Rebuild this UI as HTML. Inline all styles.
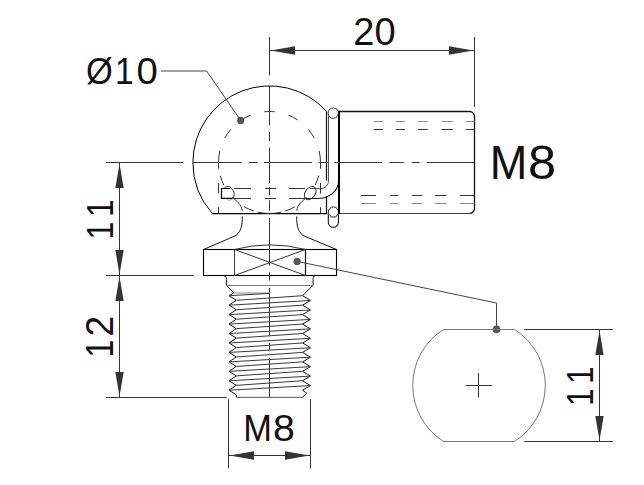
<!DOCTYPE html>
<html><head><meta charset="utf-8"><style>
html,body{margin:0;padding:0;background:#fff;width:644px;height:485px;overflow:hidden}
svg{position:absolute;left:0;top:0}
text{font-family:"Liberation Sans",sans-serif;fill:#111}
</style></head><body>
<svg width="644" height="485" viewBox="0 0 644 485">
<rect width="644" height="485" fill="#fff"/>
<line x1="474.50" y1="37.00" x2="474.50" y2="107.00" stroke="#333" stroke-width="1.0" />
<line x1="269.50" y1="37.00" x2="269.50" y2="75.50" stroke="#333" stroke-width="1.0" />
<line x1="269.50" y1="50.50" x2="474.50" y2="50.50" stroke="#333" stroke-width="1.0" />
<path d="M270.50 50.50 L295.00 46.35 L295.00 54.65 Z" fill="#333"/>
<path d="M473.50 50.50 L449.00 54.65 L449.00 46.35 Z" fill="#333"/>
<path d="M212.35 213.5 A76.6 76.6 0 0 1 192.90 162.5 A76.6 76.6 0 0 1 326.5 111.33" stroke="#000" stroke-width="1.0" fill="none" />
<line x1="212.35" y1="213.50" x2="326.50" y2="213.50" stroke="#000" stroke-width="1.25" />
<line x1="326.50" y1="214.20" x2="326.50" y2="196.00" stroke="#111" stroke-width="1.2" />
<line x1="326.50" y1="111.33" x2="326.50" y2="180.60" stroke="#111" stroke-width="1.2" />
<path d="M328.5 113 V181 A7.5 7.5 0 0 1 321 188.5 H310" stroke="#555" stroke-width="1.0" fill="none" />
<path d="M338.6 181 A21 17.3 0 0 1 317.6 198.5 H306" stroke="#111" stroke-width="1.1" fill="none" />
<circle cx="333.3" cy="113.1" r="5.2" fill="#fff" stroke="#333" stroke-width="1"/>
<path d="M328.3 212 V222.2 A5.1 5.1 0 0 0 338.5 222.2 V212" stroke="#111" stroke-width="1.1" fill="#fff" />
<circle cx="333.4" cy="212" r="5.1" fill="#fff" stroke="#222" stroke-width="1"/>
<path d="M328.4 213.5 A5.1 5.1 0 0 0 338.4 213.5" stroke="#999" stroke-width="0.8" fill="none" />
<path d="M339.5 111.5 H469.5 A5 5 0 0 1 474.5 116.5 V208.5 A5 5 0 0 1 469.5 213.5" stroke="#111" stroke-width="1.3" fill="none" />
<line x1="339.50" y1="213.50" x2="469.50" y2="213.50" stroke="#444" stroke-width="1.0" />
<line x1="339.00" y1="110.80" x2="339.00" y2="214.00" stroke="#000" stroke-width="2.0" />
<line x1="373.60" y1="121.50" x2="383.00" y2="121.50" stroke="#888" stroke-width="1.0" />
<line x1="395.60" y1="121.50" x2="404.90" y2="121.50" stroke="#888" stroke-width="1.0" />
<line x1="418.00" y1="121.50" x2="427.70" y2="121.50" stroke="#888" stroke-width="1.0" />
<line x1="441.60" y1="121.50" x2="452.80" y2="121.50" stroke="#888" stroke-width="1.0" />
<line x1="465.90" y1="121.50" x2="474.50" y2="121.50" stroke="#888" stroke-width="1.0" />
<line x1="373.60" y1="129.50" x2="383.00" y2="129.50" stroke="#333" stroke-width="1.0" />
<line x1="395.60" y1="129.50" x2="404.90" y2="129.50" stroke="#333" stroke-width="1.0" />
<line x1="418.00" y1="129.50" x2="427.70" y2="129.50" stroke="#333" stroke-width="1.0" />
<line x1="441.60" y1="129.50" x2="452.80" y2="129.50" stroke="#333" stroke-width="1.0" />
<line x1="465.90" y1="129.50" x2="474.50" y2="129.50" stroke="#333" stroke-width="1.0" />
<line x1="361.00" y1="195.50" x2="375.90" y2="195.50" stroke="#333" stroke-width="1.0" />
<line x1="390.00" y1="195.50" x2="398.20" y2="195.50" stroke="#333" stroke-width="1.0" />
<line x1="411.80" y1="195.50" x2="422.10" y2="195.50" stroke="#333" stroke-width="1.0" />
<line x1="435.10" y1="195.50" x2="446.30" y2="195.50" stroke="#333" stroke-width="1.0" />
<line x1="459.90" y1="195.50" x2="474.50" y2="195.50" stroke="#333" stroke-width="1.0" />
<line x1="361.00" y1="203.50" x2="375.90" y2="203.50" stroke="#888" stroke-width="1.0" />
<line x1="390.00" y1="203.50" x2="398.20" y2="203.50" stroke="#888" stroke-width="1.0" />
<line x1="411.80" y1="203.50" x2="422.10" y2="203.50" stroke="#888" stroke-width="1.0" />
<line x1="435.10" y1="203.50" x2="446.30" y2="203.50" stroke="#888" stroke-width="1.0" />
<line x1="459.90" y1="203.50" x2="474.50" y2="203.50" stroke="#888" stroke-width="1.0" />
<line x1="106.00" y1="162.50" x2="182.80" y2="162.50" stroke="#333" stroke-width="1.0" />
<line x1="192.80" y1="162.50" x2="241.50" y2="162.50" stroke="#333" stroke-width="1.0" />
<line x1="249.20" y1="162.50" x2="257.60" y2="162.50" stroke="#333" stroke-width="1.0" />
<line x1="264.00" y1="162.50" x2="311.80" y2="162.50" stroke="#333" stroke-width="1.0" />
<line x1="318.80" y1="162.50" x2="327.90" y2="162.50" stroke="#333" stroke-width="1.0" />
<line x1="334.20" y1="162.50" x2="382.00" y2="162.50" stroke="#333" stroke-width="1.0" />
<line x1="389.30" y1="162.50" x2="403.80" y2="162.50" stroke="#333" stroke-width="1.0" />
<line x1="411.80" y1="162.50" x2="419.60" y2="162.50" stroke="#333" stroke-width="1.0" />
<line x1="426.90" y1="162.50" x2="474.50" y2="162.50" stroke="#333" stroke-width="1.0" />
<line x1="269.50" y1="86.00" x2="269.50" y2="125.40" stroke="#333" stroke-width="1.0" />
<line x1="269.50" y1="132.00" x2="269.50" y2="141.00" stroke="#333" stroke-width="1.0" />
<line x1="269.50" y1="147.60" x2="269.50" y2="183.00" stroke="#333" stroke-width="1.0" />
<line x1="269.50" y1="187.00" x2="269.50" y2="195.40" stroke="#333" stroke-width="1.0" />
<line x1="269.50" y1="200.30" x2="269.50" y2="210.60" stroke="#333" stroke-width="1.0" />
<line x1="269.50" y1="218.00" x2="269.50" y2="265.50" stroke="#333" stroke-width="1.0" />
<line x1="269.50" y1="272.20" x2="269.50" y2="280.50" stroke="#333" stroke-width="1.0" />
<line x1="269.50" y1="288.00" x2="269.50" y2="335.90" stroke="#333" stroke-width="1.0" />
<line x1="269.50" y1="343.00" x2="269.50" y2="350.40" stroke="#333" stroke-width="1.0" />
<line x1="269.50" y1="357.80" x2="269.50" y2="397.00" stroke="#333" stroke-width="1.0" />
<path d="M269.50 111.50 A51 51 0 0 1 274.70 111.77" stroke="#333" stroke-width="1.0" fill="none" />
<path d="M264.30 111.77 A51 51 0 0 1 269.50 111.50" stroke="#333" stroke-width="1.0" fill="none" />
<path d="M288.60 115.21 A51 51 0 0 1 297.65 119.97" stroke="#333" stroke-width="1.0" fill="none" />
<path d="M241.35 119.97 A51 51 0 0 1 250.40 115.21" stroke="#333" stroke-width="1.0" fill="none" />
<path d="M308.22 129.31 A51 51 0 0 1 314.19 137.93" stroke="#333" stroke-width="1.0" fill="none" />
<path d="M224.81 137.93 A51 51 0 0 1 230.78 129.31" stroke="#333" stroke-width="1.0" fill="none" />
<path d="M319.19 151.03 A51 51 0 0 1 320.50 162.50" stroke="#333" stroke-width="1.0" fill="none" />
<path d="M218.50 162.50 A51 51 0 0 1 219.81 151.03" stroke="#333" stroke-width="1.0" fill="none" />
<path d="M318.76 175.70 A51 51 0 0 1 315.22 185.10" stroke="#333" stroke-width="1.0" fill="none" />
<path d="M223.78 185.10 A51 51 0 0 1 220.24 175.70" stroke="#333" stroke-width="1.0" fill="none" />
<path d="M295.00 206.67 A51 51 0 0 1 285.26 211.00" stroke="#333" stroke-width="1.0" fill="none" />
<path d="M253.74 211.00 A51 51 0 0 1 244.00 206.67" stroke="#333" stroke-width="1.0" fill="none" />
<path d="M281.41 212.09 A51 51 0 0 1 269.50 213.50" stroke="#333" stroke-width="1.0" fill="none" />
<path d="M269.50 213.50 A51 51 0 0 1 257.59 212.09" stroke="#333" stroke-width="1.0" fill="none" />
<line x1="218.50" y1="162.50" x2="218.50" y2="168.70" stroke="#333" stroke-width="1.0" />
<line x1="218.50" y1="183.00" x2="218.50" y2="193.50" stroke="#333" stroke-width="1.0" />
<line x1="218.50" y1="207.20" x2="218.50" y2="213.50" stroke="#333" stroke-width="1.0" />
<line x1="320.50" y1="162.50" x2="320.50" y2="168.70" stroke="#333" stroke-width="1.0" />
<line x1="320.50" y1="183.00" x2="320.50" y2="193.50" stroke="#333" stroke-width="1.0" />
<line x1="320.50" y1="207.20" x2="320.50" y2="213.50" stroke="#333" stroke-width="1.0" />
<line x1="234.00" y1="188.50" x2="251.00" y2="188.50" stroke="#333" stroke-width="1.0" />
<line x1="265.00" y1="188.50" x2="276.00" y2="188.50" stroke="#333" stroke-width="1.0" />
<line x1="289.00" y1="188.50" x2="305.00" y2="188.50" stroke="#333" stroke-width="1.0" />
<line x1="234.00" y1="198.50" x2="251.00" y2="198.50" stroke="#333" stroke-width="1.0" />
<line x1="265.00" y1="198.50" x2="276.00" y2="198.50" stroke="#333" stroke-width="1.0" />
<line x1="289.00" y1="198.50" x2="305.00" y2="198.50" stroke="#333" stroke-width="1.0" />
<path d="M230.1 188.5 H221.5 V198.3 H233" stroke="#000" stroke-width="1.2" fill="none" />
<path d="M224.2 188.5 C225 186.5 228.5 185.6 230.6 187.4 C233.6 190 235.6 194.5 233 198.3" stroke="#222" stroke-width="1.0" fill="none" />
<path d="M226 198.6 C227.5 200.8 231 200.8 233 198.3" stroke="#999" stroke-width="1.0" fill="none" />
<ellipse cx="310.2" cy="193.1" rx="5" ry="7.3" transform="rotate(35 310.2 193.1)" fill="none" stroke="#333" stroke-width="1.0"/>
<path d="M232.3 197.5 C237 201 241.5 205 242.3 210.6" stroke="#333" stroke-width="1.0" fill="none" />
<path d="M306.7 197.5 C302 201 297.5 205 296.7 210.6" stroke="#333" stroke-width="1.0" fill="none" />
<path d="M242.3 216.4 C242.3 225 241.5 231 236 235.5 L203.5 249.5" stroke="#111" stroke-width="1.0" fill="none" />
<path d="M296.7 216.4 C296.7 225 297.5 231 303 235.5 L336.5 249.5" stroke="#111" stroke-width="1.0" fill="none" />
<rect x="203.5" y="249.5" width="133" height="26" fill="none" stroke="#000" stroke-width="1.1"/>
<line x1="234.50" y1="249.50" x2="234.50" y2="275.50" stroke="#444" stroke-width="1.1" />
<line x1="305.50" y1="249.50" x2="305.50" y2="275.50" stroke="#111" stroke-width="1.2" />
<line x1="234.50" y1="249.50" x2="305.50" y2="275.50" stroke="#333" stroke-width="1.0" />
<line x1="234.50" y1="275.50" x2="305.50" y2="249.50" stroke="#333" stroke-width="1.0" />
<path d="M234.5 249.5 Q269.5 240.2 305.5 249.5" stroke="#333" stroke-width="1.0" fill="none" />
<path d="M223.8 275.5 C226 276.5 226.4 277.5 226.4 279.5 V285.3 L233.6 292.8" stroke="#111" stroke-width="1.0" fill="none" />
<path d="M315.2 275.5 C313 276.5 313.1 277.5 313.1 279.5 V285.3 L302.6 295.7" stroke="#111" stroke-width="1.0" fill="none" />
<line x1="226.40" y1="285.50" x2="313.10" y2="285.50" stroke="#777" stroke-width="1.0" />
<path d="M233.6 292.8 L229 295.70 L236.3 300.30 L229 305.15 L236.3 309.75 L229 314.60 L236.3 319.20 L229 324.05 L236.3 328.65 L229 333.50 L236.3 338.10 L229 342.95 L236.3 347.55 L229 352.40 L236.3 357.00 L229 361.85 L236.3 366.45 L229 371.30 L236.3 375.90 L229 380.75 L236.3 385.35 L229 390.20 L236.3 394.80 L236.5 397.3" stroke="#111" stroke-width="1.0" fill="none" />
<path d="M302.6 295.70 L310.4 300.50 L302.6 305.15 L310.4 309.95 L302.6 314.60 L310.4 319.40 L302.6 324.05 L310.4 328.85 L302.6 333.50 L310.4 338.30 L302.6 342.95 L310.4 347.75 L302.6 352.40 L310.4 357.20 L302.6 361.85 L310.4 366.65 L302.6 371.30 L310.4 376.10 L302.6 380.75 L310.4 385.55 L302.6 390.20 L306.7 393.2 L302.4 397.3" stroke="#111" stroke-width="1.0" fill="none" />
<line x1="233.60" y1="293.00" x2="270.50" y2="293.00" stroke="#888" stroke-width="1.0" />
<line x1="229.00" y1="295.70" x2="269.50" y2="293.40" stroke="#3a3a3a" stroke-width="1.0" />
<line x1="236.30" y1="300.30" x2="302.60" y2="295.70" stroke="#3a3a3a" stroke-width="1.0" />
<line x1="229.00" y1="305.20" x2="310.40" y2="300.50" stroke="#3a3a3a" stroke-width="1.0" />
<line x1="236.30" y1="309.75" x2="302.60" y2="305.15" stroke="#3a3a3a" stroke-width="1.0" />
<line x1="229.00" y1="314.65" x2="310.40" y2="309.95" stroke="#3a3a3a" stroke-width="1.0" />
<line x1="236.30" y1="319.20" x2="302.60" y2="314.60" stroke="#3a3a3a" stroke-width="1.0" />
<line x1="229.00" y1="324.10" x2="310.40" y2="319.40" stroke="#3a3a3a" stroke-width="1.0" />
<line x1="236.30" y1="328.65" x2="302.60" y2="324.05" stroke="#3a3a3a" stroke-width="1.0" />
<line x1="229.00" y1="333.55" x2="310.40" y2="328.85" stroke="#3a3a3a" stroke-width="1.0" />
<line x1="236.30" y1="338.10" x2="302.60" y2="333.50" stroke="#3a3a3a" stroke-width="1.0" />
<line x1="229.00" y1="343.00" x2="310.40" y2="338.30" stroke="#3a3a3a" stroke-width="1.0" />
<line x1="236.30" y1="347.55" x2="302.60" y2="342.95" stroke="#3a3a3a" stroke-width="1.0" />
<line x1="229.00" y1="352.45" x2="310.40" y2="347.75" stroke="#3a3a3a" stroke-width="1.0" />
<line x1="236.30" y1="357.00" x2="302.60" y2="352.40" stroke="#3a3a3a" stroke-width="1.0" />
<line x1="229.00" y1="361.90" x2="310.40" y2="357.20" stroke="#3a3a3a" stroke-width="1.0" />
<line x1="236.30" y1="366.45" x2="302.60" y2="361.85" stroke="#3a3a3a" stroke-width="1.0" />
<line x1="229.00" y1="371.35" x2="310.40" y2="366.65" stroke="#3a3a3a" stroke-width="1.0" />
<line x1="236.30" y1="375.90" x2="302.60" y2="371.30" stroke="#3a3a3a" stroke-width="1.0" />
<line x1="229.00" y1="380.80" x2="310.40" y2="376.10" stroke="#3a3a3a" stroke-width="1.0" />
<line x1="236.30" y1="385.35" x2="302.60" y2="380.75" stroke="#3a3a3a" stroke-width="1.0" />
<line x1="229.00" y1="390.25" x2="310.40" y2="385.55" stroke="#3a3a3a" stroke-width="1.0" />
<line x1="236.50" y1="397.30" x2="302.40" y2="397.30" stroke="#555" stroke-width="1.0" />
<line x1="106.00" y1="162.50" x2="182.80" y2="162.50" stroke="#333" stroke-width="1.0" />
<line x1="106.00" y1="275.50" x2="194.00" y2="275.50" stroke="#333" stroke-width="1.0" />
<line x1="106.00" y1="397.50" x2="226.80" y2="397.50" stroke="#333" stroke-width="1.0" />
<line x1="119.50" y1="162.50" x2="119.50" y2="397.50" stroke="#333" stroke-width="1.0" />
<path d="M119.50 163.50 L123.65 188.00 L115.35 188.00 Z" fill="#333"/>
<path d="M119.50 274.50 L115.35 250.00 L123.65 250.00 Z" fill="#333"/>
<path d="M119.50 276.50 L123.65 301.00 L115.35 301.00 Z" fill="#333"/>
<path d="M119.50 396.50 L115.35 372.00 L123.65 372.00 Z" fill="#333"/>
<line x1="228.50" y1="399.20" x2="228.50" y2="468.40" stroke="#333" stroke-width="1.0" />
<line x1="310.50" y1="399.20" x2="310.50" y2="468.40" stroke="#333" stroke-width="1.0" />
<line x1="228.50" y1="455.50" x2="310.50" y2="455.50" stroke="#333" stroke-width="1.0" />
<path d="M229.50 455.50 L254.00 451.35 L254.00 459.65 Z" fill="#333"/>
<path d="M309.50 455.50 L285.00 459.65 L285.00 451.35 Z" fill="#333"/>
<path d="M161 71 H206.6 L240.7 120.4" stroke="#444" stroke-width="1.0" fill="none" />
<circle cx="240.7" cy="120.4" r="3.6" fill="#555"/>
<path d="M297.1 261.4 L496.5 303 V329.4" stroke="#444" stroke-width="1.0" fill="none" />
<circle cx="297.1" cy="261.4" r="3.6" fill="#555"/>
<circle cx="496.5" cy="329.4" r="3.8" fill="#555"/>
<path d="M443.35 329.5 H514.65 A66.3 66.3 0 0 1 514.33 441.5 H443.67 A66.3 66.3 0 0 1 443.35 329.5 Z" stroke="#777" stroke-width="1.0" fill="none" />
<line x1="465.80" y1="385.50" x2="491.80" y2="385.50" stroke="#333" stroke-width="1.0" />
<line x1="478.50" y1="373.00" x2="478.50" y2="397.50" stroke="#333" stroke-width="1.0" />
<line x1="524.30" y1="329.50" x2="612.80" y2="329.50" stroke="#333" stroke-width="1.0" />
<line x1="524.30" y1="441.50" x2="612.80" y2="441.50" stroke="#333" stroke-width="1.0" />
<line x1="599.50" y1="329.50" x2="599.50" y2="441.50" stroke="#333" stroke-width="1.0" />
<path d="M599.50 330.50 L603.65 355.00 L595.35 355.00 Z" fill="#333"/>
<path d="M599.50 440.50 L595.35 416.00 L603.65 416.00 Z" fill="#333"/>
<text y="44.60" font-size="38" fill="#000"><tspan x="353.19" textLength="21.12" lengthAdjust="spacingAndGlyphs">2</tspan><tspan x="374.41" textLength="21.17" lengthAdjust="spacingAndGlyphs">0</tspan></text>
<text y="84.30" font-size="37.4" fill="#000"><tspan x="86.11" textLength="26.75" lengthAdjust="spacingAndGlyphs">Ø</tspan><tspan x="115.04" textLength="18.70" lengthAdjust="spacingAndGlyphs">1</tspan><tspan x="136.50" textLength="21.29" lengthAdjust="spacingAndGlyphs">0</tspan></text>
<text y="179.10" font-size="49" fill="#000"><tspan x="489.70" textLength="37.61" lengthAdjust="spacingAndGlyphs">M</tspan><tspan x="528.11" textLength="28.09" lengthAdjust="spacingAndGlyphs">8</tspan></text>
<text y="440.60" font-size="37.2" fill="#000"><tspan x="243.28" textLength="28.64" lengthAdjust="spacingAndGlyphs">M</tspan><tspan x="273.00" textLength="21.81" lengthAdjust="spacingAndGlyphs">8</tspan></text>
<text transform="translate(112.90 0) rotate(-90)" y="0" font-size="37.8" fill="#000"><tspan x="-239.44" textLength="17.80" lengthAdjust="spacingAndGlyphs">1</tspan><tspan x="-217.02" textLength="17.67" lengthAdjust="spacingAndGlyphs">1</tspan></text>
<text transform="translate(113.10 0) rotate(-90)" y="0" font-size="38" fill="#000"><tspan x="-357.54" textLength="17.80" lengthAdjust="spacingAndGlyphs">1</tspan><tspan x="-336.58" textLength="20.75" lengthAdjust="spacingAndGlyphs">2</tspan></text>
<text transform="translate(592.90 0) rotate(-90)" y="0" font-size="37.5" fill="#000"><tspan x="-406.09" textLength="17.41" lengthAdjust="spacingAndGlyphs">1</tspan><tspan x="-383.67" textLength="17.28" lengthAdjust="spacingAndGlyphs">1</tspan></text>
</svg>
</body></html>
